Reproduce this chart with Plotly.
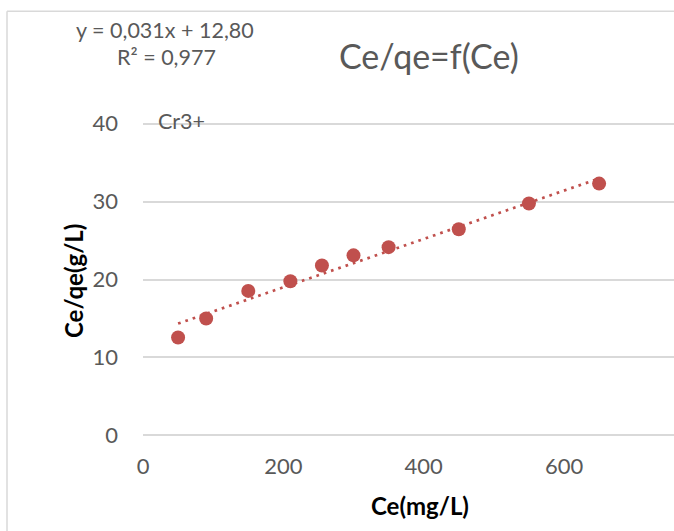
import numpy as np
import plotly.graph_objects as go

# Measured isotherm points (Cr3+)
ce = [50, 90, 150, 210, 255, 300, 350, 450, 550, 650]
ce_qe = [12.56, 15.0, 18.54, 19.78, 21.8, 23.1, 24.15, 26.45, 29.75, 32.3]

# Linear trend coefficients as reported on the chart
slope = 0.031
intercept = 12.80
r2 = 0.977

x_ticks = [0, 200, 400, 600]
y_ticks = [0, 10, 20, 30, 40]

W, H = 674, 531
Y0_PX, Y40_PX = 435, 124          # pixel rows of y=0 and y=40
X0_PX, X_PER_UNIT = 143, 0.7017   # pixel column of x=0, px per unit
PAD = 0.2                          # small y padding so edge gridlines show
ppu_y = (Y0_PX - Y40_PX) / 40.0
L, R = X0_PX, W
T = Y40_PX - PAD * ppu_y
B = Y0_PX + PAD * ppu_y


def px(x):
    return (x - L) / (R - L)


def py(y):
    return (B - y) / (B - T)


def fmt(v, nd):
    return f"{v:.{nd}f}".replace(".", ",")


red = "#C0504D"
grey = "#595959"
font = "Lato"

trend_x = np.array([min(ce), max(ce)])
trend_y = slope * trend_x + intercept

fig = go.Figure()
fig.add_trace(go.Scatter(
    x=trend_x, y=trend_y, mode="lines",
    line=dict(color=red, width=2.7, dash="2.7px,5px"),
    hoverinfo="skip", showlegend=False,
))
fig.add_trace(go.Scatter(
    x=ce, y=ce_qe, mode="markers",
    marker=dict(color=red, size=14, line=dict(width=0)),
    showlegend=False,
))

fig.update_layout(
    width=W, height=H,
    margin=dict(l=L, r=W - R, t=T, b=H - B),
    paper_bgcolor="white", plot_bgcolor="white",
    font=dict(family=font, color=grey, size=22),
    xaxis=dict(
        range=[0, (R - L) / X_PER_UNIT], tickvals=x_ticks,
        showgrid=False, zeroline=False, showline=False,
        ticks="", ticklabelstandoff=14,
        tickfont=dict(size=22, color=grey),
    ),
    yaxis=dict(
        range=[-PAD, 40 + PAD], tickvals=y_ticks,
        showgrid=True, gridcolor="#D9D9D9", gridwidth=1.6,
        zeroline=False, showline=False, ticks="",
        ticklabelstandoff=24,
        tickfont=dict(size=22, color=grey),
    ),
    shapes=[
        dict(type="line", xref="paper", yref="paper",
             x0=px(7), x1=px(W + 5), y0=py(12), y1=py(12),
             line=dict(color="#D9D9D9", width=1.5)),
        dict(type="line", xref="paper", yref="paper",
             x0=px(7), x1=px(7), y0=py(12), y1=py(H + 5),
             line=dict(color="#D9D9D9", width=1.5)),
    ],
    annotations=[
        dict(text="Ce/qe=f(Ce)", xref="paper", yref="paper",
             x=px(429), y=py(56), xanchor="center", yanchor="middle",
             showarrow=False, font=dict(size=34, color=grey, family=font)),
        dict(text=f"y = {fmt(slope, 3)}x + {fmt(intercept, 2)}",
             xref="paper", yref="paper", x=px(165), y=py(31),
             xanchor="center", yanchor="middle", showarrow=False,
             font=dict(size=21.5, color=grey, family=font)),
        dict(text=f"R² = {fmt(r2, 3)}",
             xref="paper", yref="paper", x=px(166), y=py(58),
             xanchor="center", yanchor="middle", showarrow=False,
             font=dict(size=21.5, color=grey, family=font)),
        dict(text="Cr3+", xref="paper", yref="paper",
             x=px(156), y=py(121), xanchor="left", yanchor="middle",
             showarrow=False, font=dict(size=21.5, color=grey, family=font)),
        dict(text="<b>Ce(mg/L)</b>", xref="paper", yref="paper",
             x=px(420), y=py(505), xanchor="center", yanchor="middle",
             showarrow=False, font=dict(size=24, color="black", family=font)),
        dict(text="<b>Ce/qe(g/L)</b>", xref="paper", yref="paper",
             x=px(73), y=py(281), xanchor="center", yanchor="middle",
             textangle=-90, showarrow=False,
             font=dict(size=24, color="black", family=font)),
    ],
)

fig.write_html("out.html")
